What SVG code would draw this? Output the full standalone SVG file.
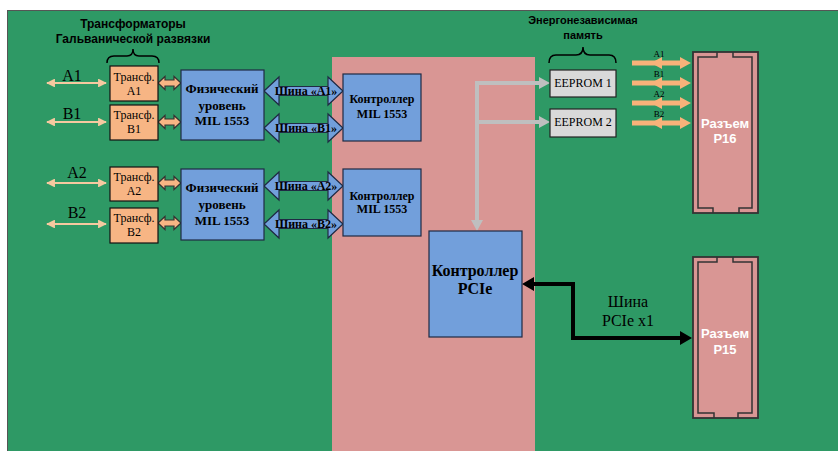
<svg xmlns="http://www.w3.org/2000/svg" width="838" height="451" viewBox="0 0 838 451">
<defs>
<style>
.bg{fill:#2e9965;stroke:#555;stroke-width:1}
.pink{fill:#d99694}
.tr{fill:#f7b584;stroke:#111;stroke-width:1.2}
.blue{fill:#729fdb;stroke:#1f2a44;stroke-width:1.2}
.ee{fill:#d9d9d9;stroke:#222;stroke-width:1.2}
.conn{fill:#d99694;stroke:#333;stroke-width:1.8}
.inner{fill:none;stroke:#333;stroke-width:1.5}
.brace{fill:none;stroke:#000;stroke-width:1.5}
.bus{fill:#729fdb;stroke:#1f2a44;stroke-width:1.2}
.sm{fill:#f7b584;stroke:#333;stroke-width:1.2}
.thin{stroke:#f6c9a0;stroke-width:2.2;fill:none}
.thick{stroke:#f9b27a;stroke-width:5;fill:none}
.grey{stroke:#bfbfbf;stroke-width:4;fill:none}
.blk{stroke:#000;stroke-width:4;fill:none}
.ser{font-family:"Liberation Serif","Times New Roman",serif;text-anchor:middle;fill:#000}
.serb{font-family:"Liberation Serif","Times New Roman",serif;font-weight:bold;text-anchor:middle;fill:#000}
.sansb{font-family:"Liberation Sans",Arial,sans-serif;font-weight:bold;text-anchor:middle;fill:#000}
.wt{font-family:"Liberation Sans",Arial,sans-serif;font-weight:bold;text-anchor:middle;fill:#fff;font-size:13px}
</style>
<marker id="ta" viewBox="0 0 10 10" refX="9" refY="5" markerWidth="4" markerHeight="4" orient="auto-start-reverse" markerUnits="strokeWidth">
<path d="M0,0 L10,5 L0,10 z" fill="#f6c9a0"/>
</marker>
</defs>
<g id="background">
<rect class="bg" x="7.5" y="10.5" width="835" height="445"/>
<rect class="pink" x="332" y="57" width="203" height="394"/>
</g>
<g id="title-transformers">
<text class="sansb" x="133" y="28" font-size="12">Трансформаторы</text>
<text class="sansb" x="133" y="43" font-size="12">Гальванической развязки</text>
<path class="brace" d="M107,63 Q107,56 114,56 L127,56 Q133,56 133,49 Q133,56 139,56 L152,56 Q159,56 159,63"/>
</g>
<g id="title-eeprom">
<text class="sansb" x="583" y="24" font-size="11">Энергонезависимая</text>
<text class="sansb" x="583" y="39" font-size="11">память</text>
<path class="brace" d="M549,63 Q549,55 556,55 L576,55 Q583,55 583,47 Q583,55 590,55 L609,55 Q616,55 616,63"/>
</g>
<g id="connectors">
<line class="thin" x1="47" y1="83" x2="106" y2="83" marker-start="url(#ta)" marker-end="url(#ta)"/>
<line class="thin" x1="47" y1="122" x2="106" y2="122" marker-start="url(#ta)" marker-end="url(#ta)"/>
<line class="thin" x1="47" y1="183" x2="106" y2="183" marker-start="url(#ta)" marker-end="url(#ta)"/>
<line class="thin" x1="47" y1="224" x2="106" y2="224" marker-start="url(#ta)" marker-end="url(#ta)"/>
<text class="ser" x="72" y="81" font-size="16">A1</text>
<text class="ser" x="72" y="119" font-size="16">B1</text>
<text class="ser" x="77" y="178" font-size="16">A2</text>
<text class="ser" x="77" y="218" font-size="16">B2</text>
<path class="sm" d="M158,83 L165,76.5 L165,80 L174,80 L174,76.5 L181,83 L174,89.5 L174,86 L165,86 L165,89.5 Z"/>
<path class="sm" d="M158,122 L165,115.5 L165,119 L174,119 L174,115.5 L181,122 L174,128.5 L174,125 L165,125 L165,128.5 Z"/>
<path class="sm" d="M158,183 L165,176.5 L165,180 L174,180 L174,176.5 L181,183 L174,189.5 L174,186 L165,186 L165,189.5 Z"/>
<path class="sm" d="M158,223 L165,216.5 L165,220 L174,220 L174,216.5 L181,223 L174,229.5 L174,226 L165,226 L165,229.5 Z"/>
<g id="bus-a1"><path class="bus" d="M264,91 L279,77 L279,86.5 L328,86.5 L328,77 L343,91 L328,105 L328,95.5 L279,95.5 L279,105 Z"/><text class="serb" x="306" y="95" font-size="12">Шина «А1»</text></g>
<g id="bus-b1"><path class="bus" d="M264,128 L279,114 L279,123.5 L328,123.5 L328,114 L343,128 L328,142 L328,132.5 L279,132.5 L279,142 Z"/><text class="serb" x="306" y="132" font-size="12">Шина «В1»</text></g>
<g id="bus-a2"><path class="bus" d="M264,186 L279,172 L279,181.5 L328,181.5 L328,172 L343,186 L328,200 L328,190.5 L279,190.5 L279,200 Z"/><text class="serb" x="306" y="190" font-size="12">Шина «А2»</text></g>
<g id="bus-b2"><path class="bus" d="M264,224 L279,210 L279,219.5 L328,219.5 L328,210 L343,224 L328,238 L328,228.5 L279,228.5 L279,238 Z"/><text class="serb" x="306" y="228" font-size="12">Шина «В2»</text></g>
<path class="grey" d="M477,222 L477,83 L540,83 M477,122 L540,122"/>
<path d="M539,77 L550,83 L539,89 Z M539,116 L550,122 L539,128 Z M471,220 L477,231 L483,220 Z" fill="#bfbfbf"/>
<path class="blk" d="M533,284 L573,284 L573,338 L681,338"/>
<path d="M534,277 L522,284 L534,291 Z M680,331 L692,338 L680,345 Z" fill="#000"/>
<text class="ser" x="628" y="307" font-size="16">Шина</text>
<text class="ser" x="628" y="326" font-size="16">PCIe x1</text>
<g fill="#f9b27a">
<line class="thick" x1="632" y1="63" x2="682" y2="63"/><path d="M662,57 L651,63 L662,69 Z M680,57 L691,63 L680,69 Z"/>
<line class="thick" x1="632" y1="83" x2="682" y2="83"/><path d="M662,77 L651,83 L662,89 Z M680,77 L691,83 L680,89 Z"/>
<line class="thick" x1="632" y1="103" x2="682" y2="103"/><path d="M662,97 L651,103 L662,109 Z M680,97 L691,103 L680,109 Z"/>
<line class="thick" x1="632" y1="123" x2="682" y2="123"/><path d="M662,117 L651,123 L662,129 Z M680,117 L691,123 L680,129 Z"/>
</g>
<text class="ser" x="659" y="57" font-size="9">A1</text>
<text class="ser" x="659" y="77" font-size="9">B1</text>
<text class="ser" x="659" y="97" font-size="9">A2</text>
<text class="ser" x="659" y="117" font-size="9">B2</text>
</g>
<g id="tr-a1"><rect class="tr" x="110" y="66" width="48" height="35"/><text class="ser" x="134" y="81" font-size="12">Трансф.</text><text class="ser" x="134" y="95" font-size="12">A1</text></g>
<g id="tr-b1"><rect class="tr" x="110" y="105" width="48" height="35"/><text class="ser" x="134" y="119" font-size="12">Трансф.</text><text class="ser" x="134" y="133" font-size="12">B1</text></g>
<g id="tr-a2"><rect class="tr" x="110" y="167" width="48" height="34"/><text class="ser" x="134" y="181" font-size="12">Трансф.</text><text class="ser" x="134" y="195" font-size="12">A2</text></g>
<g id="tr-b2"><rect class="tr" x="110" y="208" width="48" height="35"/><text class="ser" x="134" y="222" font-size="12">Трансф.</text><text class="ser" x="134" y="236" font-size="12">B2</text></g>
<g id="phy-1"><rect class="blue" x="181" y="70" width="83" height="70"/><text class="serb" x="222" y="93" font-size="13">Физический</text><text class="serb" x="222" y="110" font-size="13">уровень</text><text class="serb" x="222" y="125" font-size="13">MIL 1553</text></g>
<g id="phy-2"><rect class="blue" x="181" y="169" width="83" height="71"/><text class="serb" x="222" y="192" font-size="13">Физический</text><text class="serb" x="222" y="209" font-size="13">уровень</text><text class="serb" x="222" y="225" font-size="13">MIL 1553</text></g>
<g id="ctl-1"><rect class="blue" x="343" y="74" width="78" height="67"/><text class="serb" x="382" y="103" font-size="12">Контроллер</text><text class="serb" x="382" y="118" font-size="12">MIL 1553</text></g>
<g id="ctl-2"><rect class="blue" x="343" y="169" width="78" height="67"/><text class="serb" x="382" y="200" font-size="12">Контроллер</text><text class="serb" x="382" y="213" font-size="12">MIL 1553</text></g>
<g id="ctl-pcie"><rect class="blue" x="429" y="231" width="93" height="106"/><text class="serb" x="475" y="276" font-size="16">Контроллер</text><text class="serb" x="475" y="294" font-size="16">PCIe</text></g>
<g id="eeprom-1"><rect class="ee" x="550" y="70" width="66" height="27"/><text class="ser" x="583" y="87" font-size="12">EEPROM 1</text></g>
<g id="eeprom-2"><rect class="ee" x="550" y="109" width="66" height="28"/><text class="ser" x="583" y="126" font-size="12">EEPROM 2</text></g>
<g id="p16"><rect class="conn" x="693" y="52" width="65" height="161"/><path class="inner" d="M717,52 L717,57 L698,57 L698,208 L713,208 L713,213 M739,213 L739,208 L752,208 L752,57 L733,57 L733,52"/><text class="wt" x="725" y="128">Разъем</text><text class="wt" x="725" y="143">P16</text></g>
<g id="p15"><rect class="conn" x="693" y="257" width="65" height="161"/><path class="inner" d="M717,257 L717,262 L698,262 L698,413 L714,413 L714,418 M738,418 L738,413 L752,413 L752,262 L733,262 L733,257"/><text class="wt" x="725" y="338">Разъем</text><text class="wt" x="725" y="354">P15</text></g>
</svg>
